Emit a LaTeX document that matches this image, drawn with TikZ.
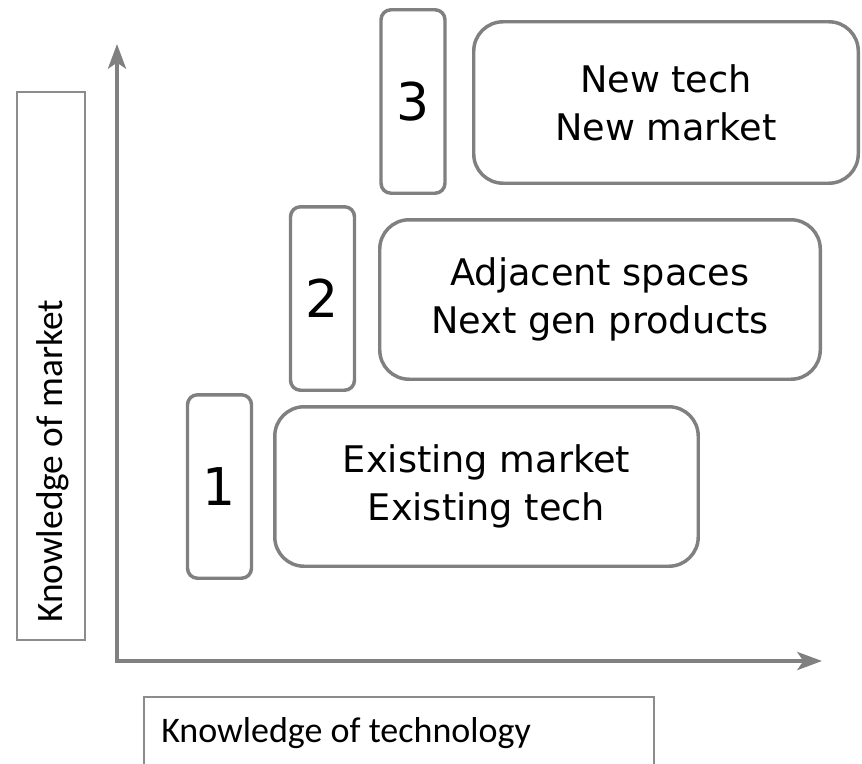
\documentclass[tikz,border=0pt]{standalone}
\usepackage{fontspec}
\setmainfont{DejaVu Sans}
\newfontfamily\labelfont{Carlito}
\usetikzlibrary{arrows.meta}
\definecolor{boxgray}{HTML}{808080}
\definecolor{framegray}{HTML}{8C8C8C}

\begin{document}
\begin{tikzpicture}[x=0.75pt,y=-0.75pt,
    axis/.style={boxgray, line width=3pt, {Stealth[length=18.5pt,width=13.5pt,inset=4.5pt]}-{Stealth[length=18.5pt,width=13.5pt,inset=4.5pt]}},
    numbox/.style={draw=boxgray, line width=2.6pt, rounded corners=7.5pt, minimum width=48pt, minimum height=137.6pt, inner sep=0pt, font=\fontsize{39}{47}\selectfont},
    textbox/.style={draw=boxgray, line width=2.6pt, rounded corners=22pt, minimum height=119.6pt, inner sep=0pt, align=center, font=\fontsize{27.5}{36}\selectfont},
    labelbox/.style={draw=framegray, line width=1.5pt, inner sep=0pt}]
    \clip (0,0) rectangle (862,763);

    % axes
    \coordinate (origin) at (117,661);
    \coordinate (ytip) at (117,44);
    \coordinate (xtip) at (822,661);
    \draw[axis] (ytip) -- (origin) -- (xtip);

    % axis labels
    \node[labelbox, minimum width=51pt, minimum height=410.6pt, anchor=north west] (marketbox) at (15.5,91.5) {};
    \node[rotate=90, anchor=base west, inner sep=0pt, font=\labelfont\fontsize{28}{32}\selectfont] (markettext) at (62,623) {Knowledge of market};
    \node[labelbox, minimum width=382.5pt, minimum height=90pt, anchor=north west] (techbox) at (142.5,695.5) {};
    \node[anchor=base west, inner sep=0pt, font=\labelfont\fontsize{27}{32}\selectfont] (techtext) at (161,742) {Knowledge of technology};

    % the three levels
    \node[numbox] (one) at (219.5,486.5) {1};
    \node[textbox, minimum width=317.6pt] (existing) at (486.5,486.5) {Existing market\\Existing tech};

    \node[numbox] (two) at (322.5,298.5) {2};
    \node[textbox, minimum width=330.4pt] (adjacent) at (600,299.5) {Adjacent spaces\\Next gen products};

    \node[numbox] (three) at (413,101.5) {3};
    \node[textbox, minimum width=288.4pt, minimum height=121.1pt] (newtech) at (666,102.5) {New tech\\New market};

\end{tikzpicture}
\end{document}
